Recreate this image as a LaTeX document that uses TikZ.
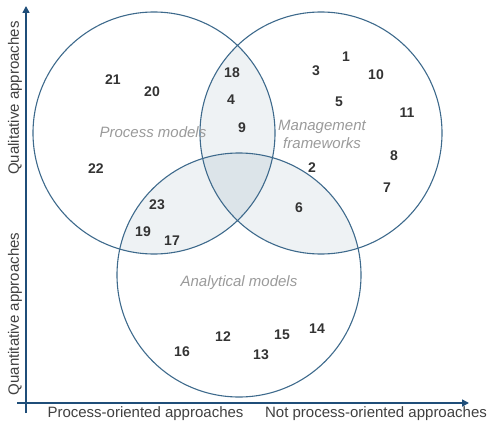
\documentclass[tikz,border=0pt]{standalone}
\usepackage{fontspec}
\setmainfont{Liberation Sans}
\usetikzlibrary{arrows.meta}
\definecolor{ringblue}{HTML}{3E6A8C}
\definecolor{axisblue}{HTML}{1F4E79}
\definecolor{pairfill}{HTML}{EEF2F4}
\definecolor{triplefill}{HTML}{DCE4E9}
\definecolor{numgray}{HTML}{333333}
\definecolor{setgray}{HTML}{9A9A9A}
\definecolor{axistext}{HTML}{404040}
\tikzset{
  ring/.style={draw=ringblue, line width=1.1pt},
  axis/.style={draw=axisblue, line width=1.6pt},
  num/.style={font=\fontsize{14}{16}\selectfont\bfseries, text=numgray, inner sep=0pt},
  setname/.style={font=\fontsize{15}{18}\selectfont\itshape, text=setgray, inner sep=0pt, align=center},
  axislabel/.style={font=\fontsize{15}{18}\selectfont, text=axistext, inner sep=0pt}
}
\begin{document}
\begin{tikzpicture}[x=1pt,y=-1pt]
\useasboundingbox (0,0) rectangle (489,425);
% circle centres and radii
\def\rA{121}\def\rB{121}\def\rC{122}
\coordinate (cA) at (154,133);
\coordinate (cB) at (321,133);
\coordinate (cC) at (239,275);
% pairwise overlaps
\begin{scope}
  \clip (cA) circle (\rA);
  \fill[pairfill] (cB) circle (\rB);
  \fill[pairfill] (cC) circle (\rC);
\end{scope}
\begin{scope}
  \clip (cB) circle (\rB);
  \fill[pairfill] (cC) circle (\rC);
\end{scope}
% triple overlap
\begin{scope}
  \clip (cA) circle (\rA);
  \clip (cB) circle (\rB);
  \fill[triplefill] (cC) circle (\rC);
\end{scope}
% outlines
\draw[ring] (cA) circle (\rA);
\draw[ring] (cB) circle (\rB);
\draw[ring] (cC) circle (\rC);
% axes
\coordinate (yb) at (26,413);
\coordinate (yt) at (26,6);
\coordinate (xl) at (17,403);
\coordinate (xr) at (469,403);
\draw[axis, -{Triangle[length=7pt,width=7pt]}] (yb) -- (yt);
\draw[axis, -{Triangle[length=7pt,width=7pt]}] (xl) -- (xr);
% axis labels
\node[axislabel, rotate=90] (qual) at (15,98) {Qualitative approaches};
\node[axislabel, rotate=90] (quant) at (15,314) {Quantitative approaches};
\node[axislabel] (proc) at (145.5,414) {Process-oriented approaches};
\node[axislabel] (nproc) at (376,414) {Not process-oriented approaches};
% set names
\node[setname] (pm) at (153,132) {Process models};
\node[setname] (mf) at (322,134) {Management\\frameworks};
\node[setname] (am) at (239,283) {Analytical models};
% items
\node[num] (n1) at (346,57) {1};
\node[num] (n2) at (312,168) {2};
\node[num] (n3) at (316,71) {3};
\node[num] (n4) at (231,100) {4};
\node[num] (n5) at (339,102) {5};
\node[num] (n6) at (299,208) {6};
\node[num] (n7) at (387,188) {7};
\node[num] (n8) at (394,156) {8};
\node[num] (n9) at (242,128) {9};
\node[num] (n10) at (376,75) {10};
\node[num] (n11) at (407,113) {11};
\node[num] (n12) at (223,337) {12};
\node[num] (n13) at (261,355) {13};
\node[num] (n14) at (317,329) {14};
\node[num] (n15) at (282,335) {15};
\node[num] (n16) at (182,352) {16};
\node[num] (n17) at (172,241) {17};
\node[num] (n18) at (232,73) {18};
\node[num] (n19) at (143,232) {19};
\node[num] (n20) at (152,92) {20};
\node[num] (n21) at (113,80) {21};
\node[num] (n22) at (96,169) {22};
\node[num] (n23) at (157,205) {23};
\end{tikzpicture}
\end{document}
